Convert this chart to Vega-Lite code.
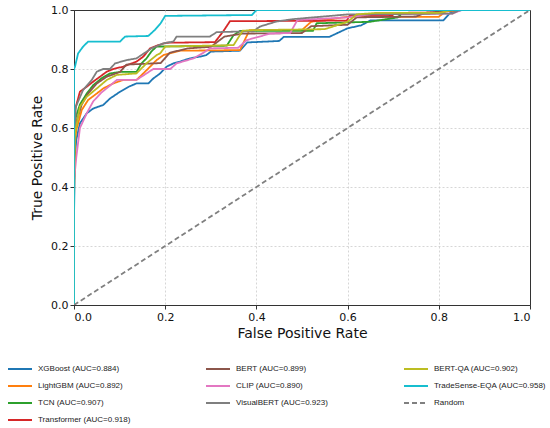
{
  "$schema": "https://vega.github.io/schema/vega-lite/v6.json",
  "width": 456,
  "height": 295,
  "autosize": {"type": "none"},
  "padding": {"left": 74, "top": 10, "right": 20, "bottom": 123},
  "background": "white",
  "config": {
    "font": "DejaVu Sans",
    "view": {"stroke": "#333333", "strokeWidth": 1},
    "axis": {
      "labelFont": "DejaVu Sans", "titleFont": "DejaVu Sans",
      "labelFontSize": 11, "titleFontSize": 14, "titleFontWeight": "normal",
      "labelColor": "#111", "titleColor": "#111",
      "domainColor": "#333333", "tickColor": "#333333", "tickSize": 4,
      "gridColor": {"condition": {"test": "datum.value === 0 || datum.value === 1", "value": "transparent"}, "value": "#cccccc"},
      "gridDash": [2, 2], "gridWidth": 0.8
    }
  },
  "data": {"values": [
    {"model":"XGBoost (AUC=0.884)","fpr":0,"tpr":0},{"model":"XGBoost (AUC=0.884)","fpr":0,"tpr":0.3},{"model":"XGBoost (AUC=0.884)","fpr":0.002,"tpr":0.5},{"model":"XGBoost (AUC=0.884)","fpr":0.005,"tpr":0.56},{"model":"XGBoost (AUC=0.884)","fpr":0.013,"tpr":0.616},{"model":"XGBoost (AUC=0.884)","fpr":0.028,"tpr":0.65},{"model":"XGBoost (AUC=0.884)","fpr":0.042,"tpr":0.666},{"model":"XGBoost (AUC=0.884)","fpr":0.064,"tpr":0.678},{"model":"XGBoost (AUC=0.884)","fpr":0.079,"tpr":0.7},{"model":"XGBoost (AUC=0.884)","fpr":0.101,"tpr":0.723},{"model":"XGBoost (AUC=0.884)","fpr":0.12,"tpr":0.74},{"model":"XGBoost (AUC=0.884)","fpr":0.137,"tpr":0.751},{"model":"XGBoost (AUC=0.884)","fpr":0.163,"tpr":0.751},{"model":"XGBoost (AUC=0.884)","fpr":0.174,"tpr":0.768},{"model":"XGBoost (AUC=0.884)","fpr":0.189,"tpr":0.785},{"model":"XGBoost (AUC=0.884)","fpr":0.203,"tpr":0.808},{"model":"XGBoost (AUC=0.884)","fpr":0.218,"tpr":0.819},{"model":"XGBoost (AUC=0.884)","fpr":0.232,"tpr":0.825},{"model":"XGBoost (AUC=0.884)","fpr":0.254,"tpr":0.836},{"model":"XGBoost (AUC=0.884)","fpr":0.276,"tpr":0.842},{"model":"XGBoost (AUC=0.884)","fpr":0.29,"tpr":0.847},{"model":"XGBoost (AUC=0.884)","fpr":0.3,"tpr":0.859},{"model":"XGBoost (AUC=0.884)","fpr":0.364,"tpr":0.862},{"model":"XGBoost (AUC=0.884)","fpr":0.38,"tpr":0.89},{"model":"XGBoost (AUC=0.884)","fpr":0.45,"tpr":0.895},{"model":"XGBoost (AUC=0.884)","fpr":0.46,"tpr":0.909},{"model":"XGBoost (AUC=0.884)","fpr":0.56,"tpr":0.909},{"model":"XGBoost (AUC=0.884)","fpr":0.6,"tpr":0.938},{"model":"XGBoost (AUC=0.884)","fpr":0.63,"tpr":0.948},{"model":"XGBoost (AUC=0.884)","fpr":0.65,"tpr":0.965},{"model":"XGBoost (AUC=0.884)","fpr":0.81,"tpr":0.965},{"model":"XGBoost (AUC=0.884)","fpr":0.825,"tpr":0.99},{"model":"XGBoost (AUC=0.884)","fpr":0.85,"tpr":1.0},{"model":"XGBoost (AUC=0.884)","fpr":1,"tpr":1},

    {"model":"LightGBM (AUC=0.892)","fpr":0,"tpr":0},{"model":"LightGBM (AUC=0.892)","fpr":0,"tpr":0.35},{"model":"LightGBM (AUC=0.892)","fpr":0.002,"tpr":0.55},{"model":"LightGBM (AUC=0.892)","fpr":0.005,"tpr":0.593},{"model":"LightGBM (AUC=0.892)","fpr":0.017,"tpr":0.661},{"model":"LightGBM (AUC=0.892)","fpr":0.031,"tpr":0.695},{"model":"LightGBM (AUC=0.892)","fpr":0.05,"tpr":0.717},{"model":"LightGBM (AUC=0.892)","fpr":0.064,"tpr":0.734},{"model":"LightGBM (AUC=0.892)","fpr":0.086,"tpr":0.751},{"model":"LightGBM (AUC=0.892)","fpr":0.108,"tpr":0.763},{"model":"LightGBM (AUC=0.892)","fpr":0.137,"tpr":0.763},{"model":"LightGBM (AUC=0.892)","fpr":0.152,"tpr":0.785},{"model":"LightGBM (AUC=0.892)","fpr":0.167,"tpr":0.808},{"model":"LightGBM (AUC=0.892)","fpr":0.181,"tpr":0.83},{"model":"LightGBM (AUC=0.892)","fpr":0.196,"tpr":0.847},{"model":"LightGBM (AUC=0.892)","fpr":0.21,"tpr":0.853},{"model":"LightGBM (AUC=0.892)","fpr":0.232,"tpr":0.862},{"model":"LightGBM (AUC=0.892)","fpr":0.364,"tpr":0.864},{"model":"LightGBM (AUC=0.892)","fpr":0.375,"tpr":0.9},{"model":"LightGBM (AUC=0.892)","fpr":0.385,"tpr":0.932},{"model":"LightGBM (AUC=0.892)","fpr":0.5,"tpr":0.932},{"model":"LightGBM (AUC=0.892)","fpr":0.52,"tpr":0.96},{"model":"LightGBM (AUC=0.892)","fpr":0.6,"tpr":0.977},{"model":"LightGBM (AUC=0.892)","fpr":0.8,"tpr":0.977},{"model":"LightGBM (AUC=0.892)","fpr":0.815,"tpr":0.995},{"model":"LightGBM (AUC=0.892)","fpr":0.85,"tpr":1.0},{"model":"LightGBM (AUC=0.892)","fpr":1,"tpr":1},

    {"model":"TCN (AUC=0.907)","fpr":0,"tpr":0},{"model":"TCN (AUC=0.907)","fpr":0,"tpr":0.4},{"model":"TCN (AUC=0.907)","fpr":0.002,"tpr":0.627},{"model":"TCN (AUC=0.907)","fpr":0.013,"tpr":0.68},{"model":"TCN (AUC=0.907)","fpr":0.028,"tpr":0.717},{"model":"TCN (AUC=0.907)","fpr":0.042,"tpr":0.745},{"model":"TCN (AUC=0.907)","fpr":0.06,"tpr":0.768},{"model":"TCN (AUC=0.907)","fpr":0.079,"tpr":0.785},{"model":"TCN (AUC=0.907)","fpr":0.101,"tpr":0.79},{"model":"TCN (AUC=0.907)","fpr":0.137,"tpr":0.79},{"model":"TCN (AUC=0.907)","fpr":0.148,"tpr":0.819},{"model":"TCN (AUC=0.907)","fpr":0.159,"tpr":0.836},{"model":"TCN (AUC=0.907)","fpr":0.17,"tpr":0.86},{"model":"TCN (AUC=0.907)","fpr":0.181,"tpr":0.876},{"model":"TCN (AUC=0.907)","fpr":0.335,"tpr":0.879},{"model":"TCN (AUC=0.907)","fpr":0.35,"tpr":0.915},{"model":"TCN (AUC=0.907)","fpr":0.364,"tpr":0.929},{"model":"TCN (AUC=0.907)","fpr":0.524,"tpr":0.929},{"model":"TCN (AUC=0.907)","fpr":0.532,"tpr":0.955},{"model":"TCN (AUC=0.907)","fpr":0.649,"tpr":0.96},{"model":"TCN (AUC=0.907)","fpr":0.71,"tpr":0.975},{"model":"TCN (AUC=0.907)","fpr":0.72,"tpr":0.99},{"model":"TCN (AUC=0.907)","fpr":0.8,"tpr":0.99},{"model":"TCN (AUC=0.907)","fpr":0.82,"tpr":1.0},{"model":"TCN (AUC=0.907)","fpr":1,"tpr":1},

    {"model":"Transformer (AUC=0.918)","fpr":0,"tpr":0},{"model":"Transformer (AUC=0.918)","fpr":0,"tpr":0.45},{"model":"Transformer (AUC=0.918)","fpr":0.002,"tpr":0.66},{"model":"Transformer (AUC=0.918)","fpr":0.013,"tpr":0.723},{"model":"Transformer (AUC=0.918)","fpr":0.028,"tpr":0.74},{"model":"Transformer (AUC=0.918)","fpr":0.042,"tpr":0.757},{"model":"Transformer (AUC=0.918)","fpr":0.057,"tpr":0.774},{"model":"Transformer (AUC=0.918)","fpr":0.072,"tpr":0.791},{"model":"Transformer (AUC=0.918)","fpr":0.086,"tpr":0.8},{"model":"Transformer (AUC=0.918)","fpr":0.108,"tpr":0.808},{"model":"Transformer (AUC=0.918)","fpr":0.137,"tpr":0.825},{"model":"Transformer (AUC=0.918)","fpr":0.152,"tpr":0.842},{"model":"Transformer (AUC=0.918)","fpr":0.167,"tpr":0.87},{"model":"Transformer (AUC=0.918)","fpr":0.185,"tpr":0.881},{"model":"Transformer (AUC=0.918)","fpr":0.203,"tpr":0.889},{"model":"Transformer (AUC=0.918)","fpr":0.309,"tpr":0.891},{"model":"Transformer (AUC=0.918)","fpr":0.327,"tpr":0.927},{"model":"Transformer (AUC=0.918)","fpr":0.342,"tpr":0.962},{"model":"Transformer (AUC=0.918)","fpr":0.598,"tpr":0.964},{"model":"Transformer (AUC=0.918)","fpr":0.605,"tpr":0.981},{"model":"Transformer (AUC=0.918)","fpr":0.697,"tpr":0.981},{"model":"Transformer (AUC=0.918)","fpr":0.705,"tpr":0.99},{"model":"Transformer (AUC=0.918)","fpr":0.8,"tpr":0.992},{"model":"Transformer (AUC=0.918)","fpr":0.82,"tpr":1.0},{"model":"Transformer (AUC=0.918)","fpr":1,"tpr":1},

    {"model":"BERT (AUC=0.899)","fpr":0,"tpr":0},{"model":"BERT (AUC=0.899)","fpr":0,"tpr":0.4},{"model":"BERT (AUC=0.899)","fpr":0.002,"tpr":0.605},{"model":"BERT (AUC=0.899)","fpr":0.017,"tpr":0.68},{"model":"BERT (AUC=0.899)","fpr":0.031,"tpr":0.717},{"model":"BERT (AUC=0.899)","fpr":0.05,"tpr":0.751},{"model":"BERT (AUC=0.899)","fpr":0.072,"tpr":0.774},{"model":"BERT (AUC=0.899)","fpr":0.101,"tpr":0.79},{"model":"BERT (AUC=0.899)","fpr":0.115,"tpr":0.815},{"model":"BERT (AUC=0.899)","fpr":0.19,"tpr":0.82},{"model":"BERT (AUC=0.899)","fpr":0.21,"tpr":0.855},{"model":"BERT (AUC=0.899)","fpr":0.25,"tpr":0.87},{"model":"BERT (AUC=0.899)","fpr":0.3,"tpr":0.875},{"model":"BERT (AUC=0.899)","fpr":0.33,"tpr":0.91},{"model":"BERT (AUC=0.899)","fpr":0.37,"tpr":0.92},{"model":"BERT (AUC=0.899)","fpr":0.5,"tpr":0.922},{"model":"BERT (AUC=0.899)","fpr":0.52,"tpr":0.945},{"model":"BERT (AUC=0.899)","fpr":0.6,"tpr":0.95},{"model":"BERT (AUC=0.899)","fpr":0.62,"tpr":0.975},{"model":"BERT (AUC=0.899)","fpr":0.75,"tpr":0.978},{"model":"BERT (AUC=0.899)","fpr":0.77,"tpr":0.99},{"model":"BERT (AUC=0.899)","fpr":0.84,"tpr":1.0},{"model":"BERT (AUC=0.899)","fpr":1,"tpr":1},

    {"model":"CLIP (AUC=0.890)","fpr":0,"tpr":0},{"model":"CLIP (AUC=0.890)","fpr":0,"tpr":0.42},{"model":"CLIP (AUC=0.890)","fpr":0.005,"tpr":0.5},{"model":"CLIP (AUC=0.890)","fpr":0.013,"tpr":0.6},{"model":"CLIP (AUC=0.890)","fpr":0.028,"tpr":0.65},{"model":"CLIP (AUC=0.890)","fpr":0.042,"tpr":0.69},{"model":"CLIP (AUC=0.890)","fpr":0.06,"tpr":0.72},{"model":"CLIP (AUC=0.890)","fpr":0.08,"tpr":0.745},{"model":"CLIP (AUC=0.890)","fpr":0.094,"tpr":0.763},{"model":"CLIP (AUC=0.890)","fpr":0.137,"tpr":0.763},{"model":"CLIP (AUC=0.890)","fpr":0.159,"tpr":0.785},{"model":"CLIP (AUC=0.890)","fpr":0.174,"tpr":0.8},{"model":"CLIP (AUC=0.890)","fpr":0.211,"tpr":0.8},{"model":"CLIP (AUC=0.890)","fpr":0.225,"tpr":0.819},{"model":"CLIP (AUC=0.890)","fpr":0.262,"tpr":0.836},{"model":"CLIP (AUC=0.890)","fpr":0.284,"tpr":0.855},{"model":"CLIP (AUC=0.890)","fpr":0.298,"tpr":0.87},{"model":"CLIP (AUC=0.890)","fpr":0.36,"tpr":0.872},{"model":"CLIP (AUC=0.890)","fpr":0.379,"tpr":0.898},{"model":"CLIP (AUC=0.890)","fpr":0.43,"tpr":0.92},{"model":"CLIP (AUC=0.890)","fpr":0.474,"tpr":0.922},{"model":"CLIP (AUC=0.890)","fpr":0.49,"tpr":0.966},{"model":"CLIP (AUC=0.890)","fpr":0.6,"tpr":0.975},{"model":"CLIP (AUC=0.890)","fpr":0.65,"tpr":0.985},{"model":"CLIP (AUC=0.890)","fpr":0.83,"tpr":0.988},{"model":"CLIP (AUC=0.890)","fpr":0.85,"tpr":1.0},{"model":"CLIP (AUC=0.890)","fpr":1,"tpr":1},

    {"model":"VisualBERT (AUC=0.923)","fpr":0,"tpr":0},{"model":"VisualBERT (AUC=0.923)","fpr":0,"tpr":0.5},{"model":"VisualBERT (AUC=0.923)","fpr":0.004,"tpr":0.672},{"model":"VisualBERT (AUC=0.923)","fpr":0.02,"tpr":0.729},{"model":"VisualBERT (AUC=0.923)","fpr":0.039,"tpr":0.763},{"model":"VisualBERT (AUC=0.923)","fpr":0.05,"tpr":0.791},{"model":"VisualBERT (AUC=0.923)","fpr":0.064,"tpr":0.8},{"model":"VisualBERT (AUC=0.923)","fpr":0.079,"tpr":0.8},{"model":"VisualBERT (AUC=0.923)","fpr":0.09,"tpr":0.819},{"model":"VisualBERT (AUC=0.923)","fpr":0.115,"tpr":0.83},{"model":"VisualBERT (AUC=0.923)","fpr":0.137,"tpr":0.836},{"model":"VisualBERT (AUC=0.923)","fpr":0.17,"tpr":0.87},{"model":"VisualBERT (AUC=0.923)","fpr":0.196,"tpr":0.887},{"model":"VisualBERT (AUC=0.923)","fpr":0.218,"tpr":0.893},{"model":"VisualBERT (AUC=0.923)","fpr":0.225,"tpr":0.91},{"model":"VisualBERT (AUC=0.923)","fpr":0.298,"tpr":0.91},{"model":"VisualBERT (AUC=0.923)","fpr":0.313,"tpr":0.925},{"model":"VisualBERT (AUC=0.923)","fpr":0.393,"tpr":0.928},{"model":"VisualBERT (AUC=0.923)","fpr":0.408,"tpr":0.944},{"model":"VisualBERT (AUC=0.923)","fpr":0.444,"tpr":0.961},{"model":"VisualBERT (AUC=0.923)","fpr":0.48,"tpr":0.969},{"model":"VisualBERT (AUC=0.923)","fpr":0.6,"tpr":0.985},{"model":"VisualBERT (AUC=0.923)","fpr":0.83,"tpr":0.988},{"model":"VisualBERT (AUC=0.923)","fpr":0.846,"tpr":1.0},{"model":"VisualBERT (AUC=0.923)","fpr":1,"tpr":1},

    {"model":"BERT-QA (AUC=0.902)","fpr":0,"tpr":0},{"model":"BERT-QA (AUC=0.902)","fpr":0,"tpr":0.4},{"model":"BERT-QA (AUC=0.902)","fpr":0.002,"tpr":0.58},{"model":"BERT-QA (AUC=0.902)","fpr":0.013,"tpr":0.672},{"model":"BERT-QA (AUC=0.902)","fpr":0.028,"tpr":0.706},{"model":"BERT-QA (AUC=0.902)","fpr":0.05,"tpr":0.734},{"model":"BERT-QA (AUC=0.902)","fpr":0.072,"tpr":0.763},{"model":"BERT-QA (AUC=0.902)","fpr":0.094,"tpr":0.78},{"model":"BERT-QA (AUC=0.902)","fpr":0.137,"tpr":0.785},{"model":"BERT-QA (AUC=0.902)","fpr":0.159,"tpr":0.819},{"model":"BERT-QA (AUC=0.902)","fpr":0.181,"tpr":0.847},{"model":"BERT-QA (AUC=0.902)","fpr":0.189,"tpr":0.853},{"model":"BERT-QA (AUC=0.902)","fpr":0.2,"tpr":0.876},{"model":"BERT-QA (AUC=0.902)","fpr":0.35,"tpr":0.881},{"model":"BERT-QA (AUC=0.902)","fpr":0.37,"tpr":0.93},{"model":"BERT-QA (AUC=0.902)","fpr":0.4,"tpr":0.932},{"model":"BERT-QA (AUC=0.902)","fpr":0.55,"tpr":0.935},{"model":"BERT-QA (AUC=0.902)","fpr":0.6,"tpr":0.96},{"model":"BERT-QA (AUC=0.902)","fpr":0.62,"tpr":0.985},{"model":"BERT-QA (AUC=0.902)","fpr":0.66,"tpr":0.99},{"model":"BERT-QA (AUC=0.902)","fpr":0.8,"tpr":0.99},{"model":"BERT-QA (AUC=0.902)","fpr":0.83,"tpr":1.0},{"model":"BERT-QA (AUC=0.902)","fpr":1,"tpr":1},

    {"model":"TradeSense-EQA (AUC=0.958)","fpr":0,"tpr":0},{"model":"TradeSense-EQA (AUC=0.958)","fpr":0,"tpr":0.8},{"model":"TradeSense-EQA (AUC=0.958)","fpr":0.002,"tpr":0.807},{"model":"TradeSense-EQA (AUC=0.958)","fpr":0.009,"tpr":0.853},{"model":"TradeSense-EQA (AUC=0.958)","fpr":0.02,"tpr":0.876},{"model":"TradeSense-EQA (AUC=0.958)","fpr":0.031,"tpr":0.893},{"model":"TradeSense-EQA (AUC=0.958)","fpr":0.101,"tpr":0.893},{"model":"TradeSense-EQA (AUC=0.958)","fpr":0.112,"tpr":0.91},{"model":"TradeSense-EQA (AUC=0.958)","fpr":0.163,"tpr":0.912},{"model":"TradeSense-EQA (AUC=0.958)","fpr":0.177,"tpr":0.932},{"model":"TradeSense-EQA (AUC=0.958)","fpr":0.19,"tpr":0.955},{"model":"TradeSense-EQA (AUC=0.958)","fpr":0.2,"tpr":0.98},{"model":"TradeSense-EQA (AUC=0.958)","fpr":0.39,"tpr":0.983},{"model":"TradeSense-EQA (AUC=0.958)","fpr":0.4,"tpr":1.0},{"model":"TradeSense-EQA (AUC=0.958)","fpr":1,"tpr":1},

    {"model":"Random","fpr":0,"tpr":0},{"model":"Random","fpr":1,"tpr":1}
  ]},
  "mark": {"type": "line", "strokeWidth": 1.8, "clip": true},
  "encoding": {
    "x": {"field": "fpr", "type": "quantitative", "title": "False Positive Rate",
      "scale": {"domain": [0, 1], "nice": false},
      "axis": {"values": [0, 0.2, 0.4, 0.6, 0.8, 1.0], "format": ".1f", "titlePadding": 4, "labelPadding": 2}},
    "y": {"field": "tpr", "type": "quantitative", "title": "True Positive Rate",
      "scale": {"domain": [0, 1], "nice": false},
      "axis": {"values": [0, 0.2, 0.4, 0.6, 0.8, 1.0], "format": ".1f", "titlePadding": 6, "labelPadding": 2}},
    "order": [{"field": "fpr", "type": "quantitative"}, {"field": "tpr", "type": "quantitative"}],
    "color": {"field": "model", "type": "nominal",
      "scale": {
        "domain": ["XGBoost (AUC=0.884)", "BERT (AUC=0.899)", "BERT-QA (AUC=0.902)", "LightGBM (AUC=0.892)", "CLIP (AUC=0.890)", "TradeSense-EQA (AUC=0.958)", "TCN (AUC=0.907)", "VisualBERT (AUC=0.923)", "Random", "Transformer (AUC=0.918)"],
        "range": ["#1f77b4", "#8c564b", "#bcbd22", "#ff7f0e", "#e377c2", "#17becf", "#2ca02c", "#7f7f7f", "#808080", "#d62728"]
      },
      "legend": {"title": null, "orient": "none", "direction": "horizontal", "legendX": -67, "legendY": 346, "columns": 3, "gridAlign": "all",
        "columnPadding": 52, "rowPadding": 0, "symbolType": "stroke", "symbolSize": 576, "symbolStrokeWidth": 2,
        "labelFont": "Liberation Sans", "labelFontSize": 8, "labelOffset": 5, "labelColor": "#222", "labelLimit": 200}
    },
    "strokeDash": {"field": "model", "type": "nominal",
      "scale": {
        "domain": ["XGBoost (AUC=0.884)", "BERT (AUC=0.899)", "BERT-QA (AUC=0.902)", "LightGBM (AUC=0.892)", "CLIP (AUC=0.890)", "TradeSense-EQA (AUC=0.958)", "TCN (AUC=0.907)", "VisualBERT (AUC=0.923)", "Random", "Transformer (AUC=0.918)"],
        "range": [[1, 0], [1, 0], [1, 0], [1, 0], [1, 0], [1, 0], [1, 0], [1, 0], [5, 3], [1, 0]]
      }
    }
  }
}
